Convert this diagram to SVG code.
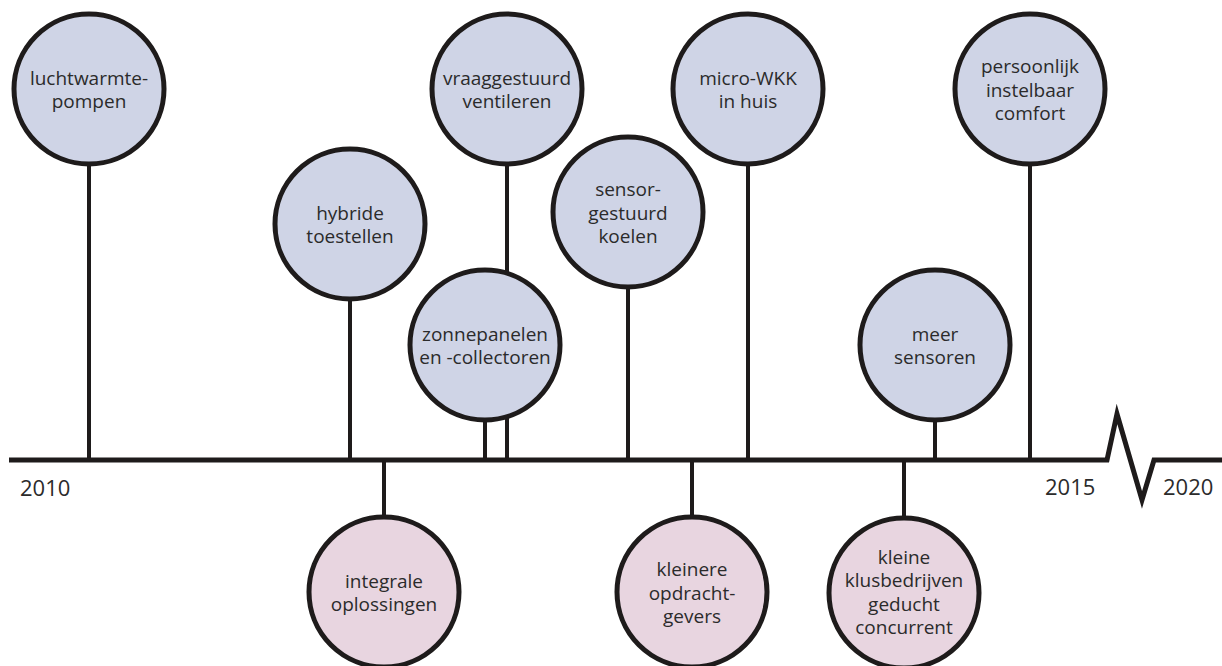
<svg xmlns="http://www.w3.org/2000/svg" width="1222" height="666" viewBox="0 0 1222 666">
<style>
.bg{fill:#ffffff}
.stem{stroke:#1e1b1b;stroke-width:4;fill:none}
.axis{stroke:#1e1b1b;stroke-width:5;fill:none;stroke-linejoin:miter;stroke-miterlimit:10}
.c{stroke:#1e1b1b;stroke-width:5}
.blue{fill:#cfd4e6}
.pink{fill:#e8d5e0}
text{font-family:"Open Sans","Noto Sans",sans-serif;font-size:19px;fill:#2b2b2b;text-anchor:middle}
.yr{font-size:22px;text-anchor:start}
</style>
<rect class="bg" x="0" y="0" width="1222" height="666"/>
<g id="connectors">
<line class="stem" x1="89" y1="164" x2="89" y2="460"/>
<line class="stem" x1="350" y1="299" x2="350" y2="460"/>
<line class="stem" x1="507" y1="164" x2="507" y2="460"/>
<line class="stem" x1="485" y1="420" x2="485" y2="460"/>
<line class="stem" x1="628" y1="287" x2="628" y2="460"/>
<line class="stem" x1="748" y1="164" x2="748" y2="460"/>
<line class="stem" x1="935" y1="420" x2="935" y2="460"/>
<line class="stem" x1="1030" y1="164" x2="1030" y2="460"/>
<line class="stem" x1="384" y1="460" x2="384" y2="517"/>
<line class="stem" x1="692" y1="460" x2="692" y2="517"/>
<line class="stem" x1="904" y1="460" x2="904" y2="518"/>
</g>
<g id="timeline">
<polyline class="axis" points="9,460 1107,460 1117,414 1142,500 1154,460 1222,460"/>
<text class="yr" x="20" y="496">2010</text>
<text class="yr" x="1045" y="495">2015</text>
<text class="yr" x="1163" y="495">2020</text>
</g>
<g id="luchtwarmtepompen">
<circle class="c blue" cx="89" cy="89" r="75"/>
<text x="89" y="85">luchtwarmte-<tspan x="89" dy="23">pompen</tspan></text>
</g>
<g id="hybride">
<circle class="c blue" cx="350" cy="224" r="75"/>
<text x="350" y="220">hybride<tspan x="350" dy="23">toestellen</tspan></text>
</g>
<g id="vraaggestuurd">
<circle class="c blue" cx="507" cy="89" r="75"/>
<text x="507" y="85">vraaggestuurd<tspan x="507" dy="23">ventileren</tspan></text>
</g>
<g id="zonnepanelen">
<circle class="c blue" cx="485" cy="345" r="75"/>
<text x="485" y="341">zonnepanelen<tspan x="485" dy="23">en -collectoren</tspan></text>
</g>
<g id="sensorgestuurd">
<circle class="c blue" cx="628" cy="212" r="75"/>
<text x="628" y="196">sensor-<tspan x="628" dy="23.5">gestuurd</tspan><tspan x="628" dy="23.5">koelen</tspan></text>
</g>
<g id="microwkk">
<circle class="c blue" cx="748" cy="89" r="75"/>
<text x="748" y="85">micro-WKK<tspan x="748" dy="23">in huis</tspan></text>
</g>
<g id="meersensoren">
<circle class="c blue" cx="935" cy="345" r="75"/>
<text x="935" y="341">meer<tspan x="935" dy="23">sensoren</tspan></text>
</g>
<g id="persoonlijk">
<circle class="c blue" cx="1030" cy="89" r="75"/>
<text x="1030" y="73">persoonlijk<tspan x="1030" dy="23.5">instelbaar</tspan><tspan x="1030" dy="23.5">comfort</tspan></text>
</g>
<g id="integrale">
<circle class="c pink" cx="384" cy="592" r="75"/>
<text x="384" y="588">integrale<tspan x="384" dy="23">oplossingen</tspan></text>
</g>
<g id="kleinere">
<circle class="c pink" cx="692" cy="592" r="75"/>
<text x="692" y="576">kleinere<tspan x="692" dy="23.5">opdracht-</tspan><tspan x="692" dy="23.5">gevers</tspan></text>
</g>
<g id="klusbedrijven">
<circle class="c pink" cx="904" cy="593" r="75"/>
<text x="904" y="564">kleine<tspan x="904" dy="23.3">klusbedrijven</tspan><tspan x="904" dy="23.3">geducht</tspan><tspan x="904" dy="23.3">concurrent</tspan></text>
</g>
</svg>
